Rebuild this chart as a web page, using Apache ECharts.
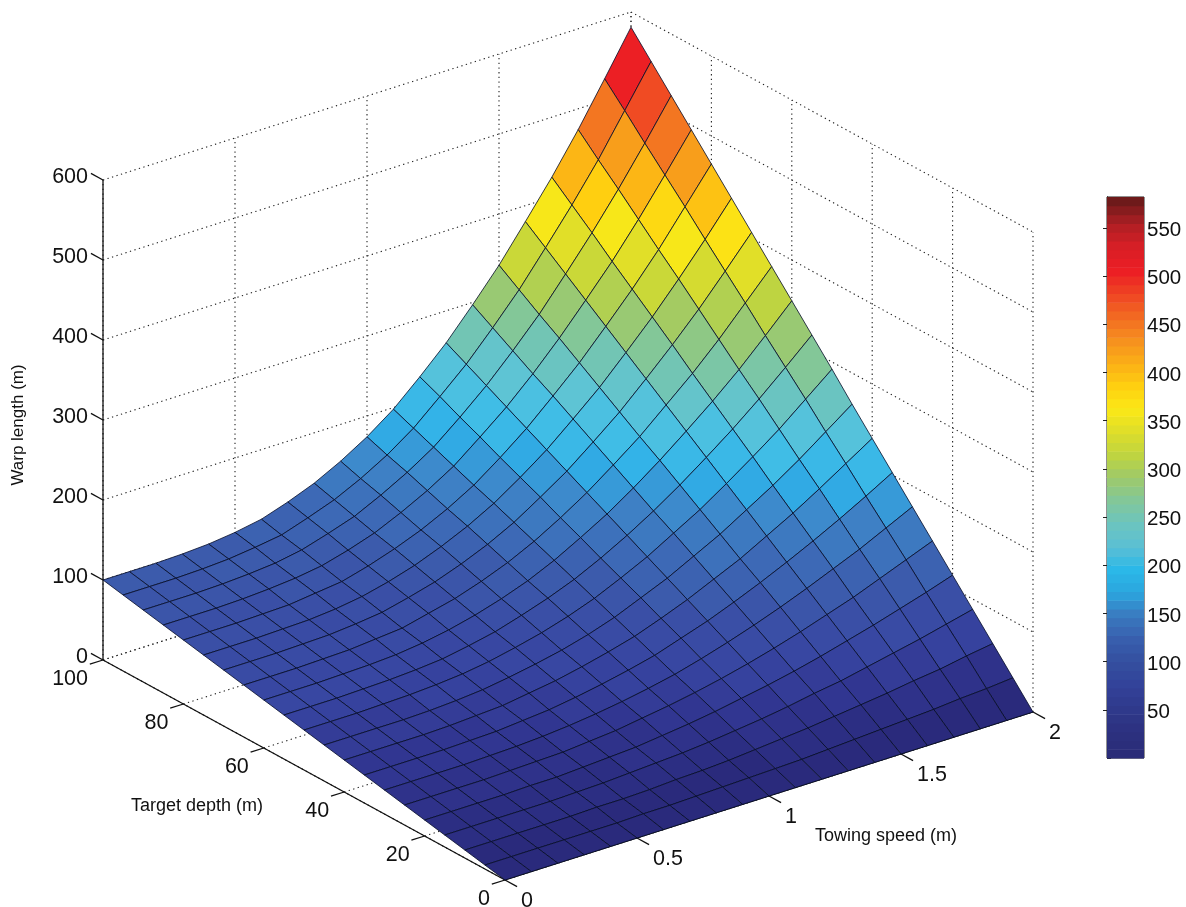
<!DOCTYPE html>
<html>
<head>
<meta charset="utf-8">
<script src="https://cdn.jsdelivr.net/npm/echarts@6/dist/echarts.min.js"></script>
<style>html,body{margin:0;padding:0;background:#fff}#c{width:1186px;height:907px}</style>
</head>
<body>
<div id="c"></div>
<script>
// ---- data ----
const speeds = [0,0.1,0.2,0.3,0.4,0.5,0.6,0.7,0.8,0.9,1,1.1,1.2,1.3,1.4,1.5,1.6,1.7,1.8,1.9,2];
const depths = [0,5,10,15,20,25,30,35,40,45,50,55,60,65,70,75,80,85,90,95,100];
// warp length (m): one row per target depth, one column per towing speed
const warpByDepth = [
 [0,0,0,0,0,0,0,0,0,0,0,0,0,0,0,0,0,0,0,0,0],
 [5,5,5,5,5,5,6,6,7,8,9,10,11,13,15,17,19,21,24,26,29],
 [10,10,10,10,10,11,11,12,14,15,17,20,23,26,30,34,38,43,47,53,58],
 [15,15,15,15,15,16,17,19,21,23,26,30,34,39,45,50,57,64,71,79,87],
 [20,20,20,20,21,21,23,25,27,31,35,40,46,52,59,67,76,85,95,105,116],
 [25,25,25,25,26,27,28,31,34,39,44,50,57,65,74,84,95,106,119,132,145],
 [30,30,30,30,31,32,34,37,41,46,52,59,68,78,89,101,114,128,142,158,174],
 [35,35,35,35,36,37,40,43,48,54,61,69,80,91,104,118,133,149,166,184,203],
 [40,40,40,40,41,43,45,50,55,62,70,79,91,104,119,134,152,170,190,211,232],
 [45,45,45,45,46,48,51,56,62,69,78,89,103,117,134,151,171,191,213,237,261],
 [50,50,50,51,52,54,57,62,69,77,87,99,114,130,149,168,190,213,237,264,291],
 [55,55,55,56,57,59,62,68,75,85,96,109,125,143,163,185,209,234,261,290,320],
 [60,60,60,61,62,64,68,74,82,92,104,119,137,156,178,202,228,255,284,316,349],
 [65,65,65,66,67,70,73,81,89,100,113,129,148,169,193,218,247,276,308,343,378],
 [70,70,70,71,72,75,79,87,96,108,122,139,160,182,208,235,266,298,332,369,407],
 [75,75,75,76,77,80,85,93,103,116,131,149,171,195,223,252,285,319,356,395,436],
 [80,80,80,81,82,86,90,99,110,123,139,158,182,208,238,269,304,340,379,422,465],
 [85,85,85,86,88,91,96,105,116,131,148,168,194,221,252,286,323,361,403,448,494],
 [90,90,90,91,93,96,102,112,123,139,157,178,205,234,267,302,342,383,427,474,523],
 [95,95,95,96,98,102,107,118,130,146,165,188,217,247,282,319,361,404,450,501,552],
 [100,100,100,101,103,107,113,124,137,154,174,198,228,260,297,336,380,425,474,527,581]
];
const speedTicks = [0,0.5,1,1.5,2];
const depthTicks = [0,20,40,60,80,100];
const warpTicks = [0,100,200,300,400,500,600];
const upperStops = ['#6cc4bf','#82c79a','#9ec96a','#c0d53f','#dede2a','#fbe816','#ffcf10','#fbae17','#f68f1f','#f26a22',
  '#ef4423','#ec1d24','#d91f26','#b01f24','#6e1a1a'];
const surfaceLowStops = ['#2a2a7c','#30348e','#3744a0','#3a4ea6','#3c5eae','#3d72bc','#3e86c9','#2fb0e8','#40bde6','#5cc4d8'];
const barLowStops = ['#2a2c78','#2d3180','#2f3a8c','#33429a','#344f9f','#385fae','#3a7abf','#2ba5de','#2bb8e8','#5bbfd4'];
const surfaceStops = surfaceLowStops.concat(upperStops);
const barStops = barLowStops.concat(upperStops);
const colorMax = 582, colorLevels = 64;

// ---- oblique projection of the 3-D box onto a page-sized hidden plane ----
const W = 1186, H = 907;
const view = {ox:505, oy:880, vx:264, vy:-84, dx:-4.02, dy:-2.2, zy:-0.8};
function proj(v, d, z){ return [view.ox + v*view.vx + d*view.dx, view.oy + v*view.vy + d*view.dy + z*view.zy]; }
function colorOf(z, stops){
  const lv = Math.min(colorLevels-1, Math.max(0, Math.floor(z/colorMax*colorLevels)));
  return echarts.color.lerp(lv/(colorLevels-1), stops);
}

// surface cells, back to front
const cells = [];
for (let i = speeds.length-2; i >= 0; i--) for (let j = depths.length-2; j >= 0; j--) cells.push([i,j]);

// dotted box grid
const vMax = speeds[speeds.length-1], dMax = depths[depths.length-1], zMax = warpTicks[warpTicks.length-1];
const dotted = [];
warpTicks.forEach(z=>{ dotted.push([0,dMax,z,vMax,dMax,z]); dotted.push([vMax,dMax,z,vMax,0,z]); });
speedTicks.forEach(v=>{ dotted.push([v,dMax,0,v,dMax,zMax]); dotted.push([v,0,0,v,dMax,0]); });
depthTicks.forEach(d=>{ dotted.push([vMax,d,0,vMax,d,zMax]); dotted.push([0,d,0,vMax,d,0]); });

// solid axes and tick marks
const solid = [[0,dMax,0,0,dMax,zMax],[0,0,0,0,dMax,0],[0,0,0,vMax,0,0]];
warpTicks.forEach(z=>solid.push([0,dMax,z,0,dMax+3,z]));
depthTicks.forEach(d=>solid.push([0,d,0,-0.05,d,0]));
speedTicks.forEach(v=>solid.push([v,0,0,v,-3,0]));

// text labels: [v,d,z,text,dx,dy,align,size]
const tickFont = 21.5;
const labels = [];
warpTicks.forEach(z=>labels.push([0,dMax,z,String(z),-15,-3,'right',tickFont]));
depthTicks.forEach(d=>labels.push([0,d,0,String(d),-15,19,'right',tickFont]));
speedTicks.forEach(v=>labels.push([v,0,0,String(v),16,21,'left',tickFont]));

const titles = [
  {text:'Warp length (m)', x:18, y:425, rotation:Math.PI/2, size:17},
  {text:'Target depth (m)', x:197, y:806, rotation:0, size:18},
  {text:'Towing speed (m)', x:886, y:836, rotation:0, size:18}
];

// colour bar bands
const bands = [];
for (let k = 0; k < colorLevels; k++) bands.push([k*colorMax/colorLevels, (k+1)*colorMax/colorLevels]);

function segmentSeries(data, style, z){
  return {
    type:'custom', coordinateSystem:'cartesian2d', xAxisIndex:0, yAxisIndex:0, silent:true, clip:false, z:z,
    data:data.map((s,i)=>[i]),
    renderItem:(p,api)=>{
      const s = data[api.value(0)];
      const a = api.coord(proj(s[0],s[1],s[2])), b = api.coord(proj(s[3],s[4],s[5]));
      return {type:'line', shape:{x1:a[0],y1:a[1],x2:b[0],y2:b[1]}, style:Object.assign({fill:null}, style)};
    }
  };
}

const option = {
  animation:false,
  backgroundColor:'#fff',
  grid:[
    {left:0, top:0, width:W, height:H, containLabel:false},
    {left:1107, top:197, width:37, height:561, show:true, borderColor:'#222', borderWidth:1, backgroundColor:'transparent'}
  ],
  xAxis:[
    {gridIndex:0, type:'value', min:0, max:W, show:false},
    {gridIndex:1, type:'value', min:0, max:1, show:false}
  ],
  yAxis:[
    {gridIndex:0, type:'value', min:0, max:H, inverse:true, show:false},
    {gridIndex:1, type:'value', position:'right', min:0, max:colorMax, interval:50,
      splitLine:{show:false}, axisLine:{show:true,lineStyle:{color:'#222'}},
      axisTick:{show:true,inside:true,length:4,lineStyle:{color:'#222'}},
      axisLabel:{show:true,showMinLabel:false,showMaxLabel:false,margin:3,formatter:'{a|{value}}',
        rich:{a:{color:'#111',fontSize:20.5,fontFamily:'Liberation Sans',padding:[5,0,0,0]}}}},
    {gridIndex:1, type:'value', position:'left', min:0, max:colorMax, interval:50,
      splitLine:{show:false}, axisLine:{show:true,lineStyle:{color:'#222'}},
      axisTick:{show:true,inside:true,length:4,lineStyle:{color:'#222'}},
      axisLabel:{show:false}}
  ],
  series:[
    segmentSeries(dotted,{stroke:'#222',lineWidth:1.1,lineDash:[1.3,3.4]},1),
    segmentSeries(solid,{stroke:'#111',lineWidth:1.3},2),
    {
      type:'custom', name:'Warp length', coordinateSystem:'cartesian2d', xAxisIndex:0, yAxisIndex:0, silent:true, clip:false, z:3,
      data:cells,
      renderItem:(p,api)=>{
        const i = api.value(0), j = api.value(1);
        const corner = (a,b)=>api.coord(proj(speeds[a],depths[b],warpByDepth[b][a]));
        return {type:'polygon',
          shape:{points:[corner(i,j),corner(i+1,j),corner(i+1,j+1),corner(i,j+1)]},
          style:{fill:colorOf(warpByDepth[j][i],surfaceStops),stroke:'rgba(5,12,40,0.8)',lineWidth:1}};
      }
    },
    {
      type:'custom', coordinateSystem:'cartesian2d', xAxisIndex:0, yAxisIndex:0, silent:true, clip:false, z:4,
      data:labels.map((l,i)=>[i]),
      renderItem:(p,api)=>{
        const l = labels[api.value(0)];
        const c = api.coord(proj(l[0],l[1],l[2]));
        return {type:'text', x:c[0]+l[4], y:c[1]+l[5],
          style:{text:l[3],fill:'#111',fontSize:l[7],fontFamily:'Liberation Sans',align:l[6],verticalAlign:'middle'}};
      }
    },
    {
      type:'custom', coordinateSystem:'cartesian2d', xAxisIndex:0, yAxisIndex:0, silent:true, clip:false, z:4,
      data:titles.map((t,i)=>[i]),
      renderItem:(p,api)=>{
        const t = titles[api.value(0)];
        const c = api.coord([t.x,t.y]);
        return {type:'text', x:c[0], y:c[1], rotation:t.rotation,
          style:{text:t.text,fill:'#111',fontSize:t.size,fontFamily:'Liberation Sans',align:'center',verticalAlign:'middle'}};
      }
    },
    {
      type:'custom', name:'Colour bar', coordinateSystem:'cartesian2d', xAxisIndex:1, yAxisIndex:1, silent:true, z:1,
      data:bands,
      renderItem:(p,api)=>{
        const a = api.coord([0,api.value(1)]), b = api.coord([1,api.value(0)]);
        return {type:'rect', shape:{x:a[0],y:a[1],width:b[0]-a[0],height:b[1]-a[1]+0.6},
          style:{fill:colorOf((api.value(0)+api.value(1))/2,barStops)}};
      }
    }
  ]
};
const chart = echarts.init(document.getElementById('c'), null, {renderer:'canvas', width:W, height:H});
chart.setOption(option);
</script>
</body>
</html>
